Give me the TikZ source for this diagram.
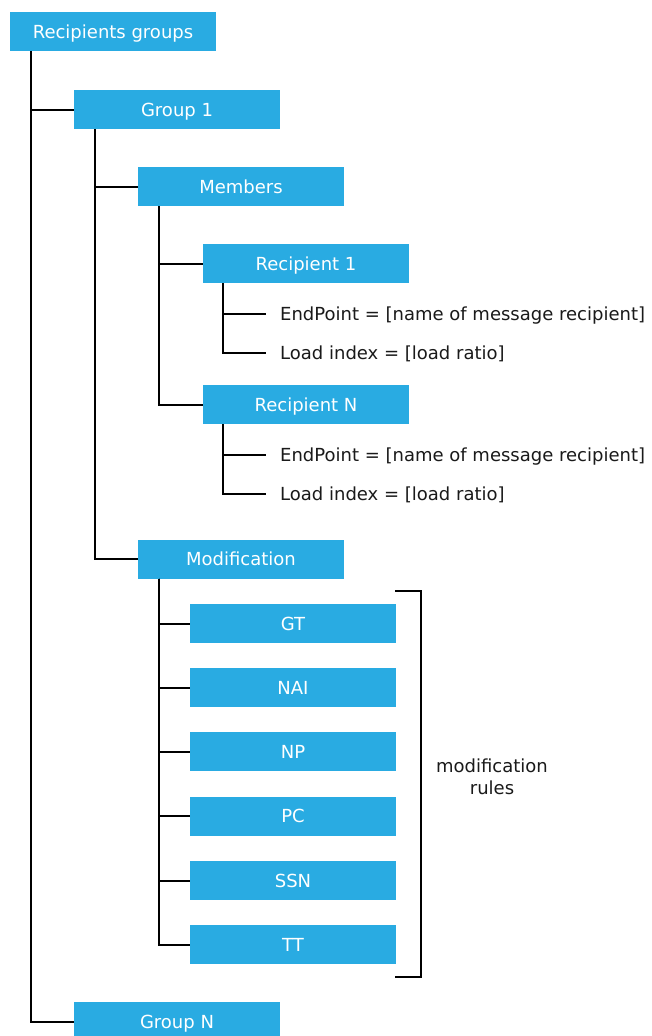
\documentclass[tikz,border=0pt]{standalone}
\usepackage{fontspec}
\setmainfont{DejaVu Sans}
\definecolor{boxblue}{HTML}{29ABE2}
\definecolor{ink}{HTML}{1A1A1A}
\begin{document}
\begin{tikzpicture}[x=1pt,y=-1pt,
  box/.style={fill=boxblue,text=white,minimum width=206pt,minimum height=39pt,inner sep=0pt,text height=13pt,text depth=0pt,font=\fontsize{18}{21}\selectfont},
  leaf/.style={anchor=west,inner xsep=14pt,inner ysep=0pt,text height=13pt,text depth=0pt,text=ink,font=\fontsize{18}{21}\selectfont},
  conn/.style={draw=black,line width=2pt},
]
\clip (0,0) rectangle (651,1036);
\fill[white] (0,0) rectangle (651,1036);
% boxes
\node[box] (root) at (113,31.5) {Recipients groups};
\node[box] (g1) at (177,109.5) {Group 1};
\node[box] (mem) at (241,186.5) {Members};
\node[box] (r1) at (306,263.5) {Recipient 1};
\node[leaf] (ep1) at (266,314) {EndPoint = [name of message recipient]};
\node[leaf] (li1) at (266,353) {Load index = [load ratio]};
\node[box] (rn) at (306,404.5) {Recipient N};
\node[leaf] (epn) at (266,455) {EndPoint = [name of message recipient]};
\node[leaf] (lin) at (266,494) {Load index = [load ratio]};
\node[box] (mod) at (241,559) {Modification};
\node[box] (gt) at (293,623.5) {GT};
\node[box] (nai) at (293,687.5) {NAI};
\node[box] (np) at (293,751.5) {NP};
\node[box] (pc) at (293,816) {PC};
\node[box] (ssn) at (293,880.5) {SSN};
\node[box] (tt) at (293,944.5) {TT};
\node[box] (gn) at (177,1021.5) {Group N};
% connectors
\draw[conn] (root.south west) ++(21,0) |- (g1.west);
\draw[conn] (root.south west) ++(21,0) |- (gn.west);
\draw[conn] (g1.south west) ++(21,0) |- (mem.west);
\draw[conn] (g1.south west) ++(21,0) |- (mod.west);
\draw[conn] (mem.south west) ++(21,0) |- (r1.west);
\draw[conn] (mem.south west) ++(21,0) |- (rn.west);
\draw[conn] (r1.south west) ++(20,0) |- (ep1.west);
\draw[conn] (r1.south west) ++(20,0) |- (li1.west);
\draw[conn] (rn.south west) ++(20,0) |- (epn.west);
\draw[conn] (rn.south west) ++(20,0) |- (lin.west);
\foreach \n in {gt,nai,np,pc,ssn,tt}
  \draw[conn] (mod.south west) ++(21,0) |- (\n.west);
% bracket
\coordinate (bt) at (395,591);
\coordinate (bb) at (395,977);
\draw[conn] (bt) -| (421,977) -- (bb);
\node[align=center,text=ink,font=\fontsize{18}{22}\selectfont] (mr) at (492,777) {modification\\rules};
\end{tikzpicture}
\end{document}
